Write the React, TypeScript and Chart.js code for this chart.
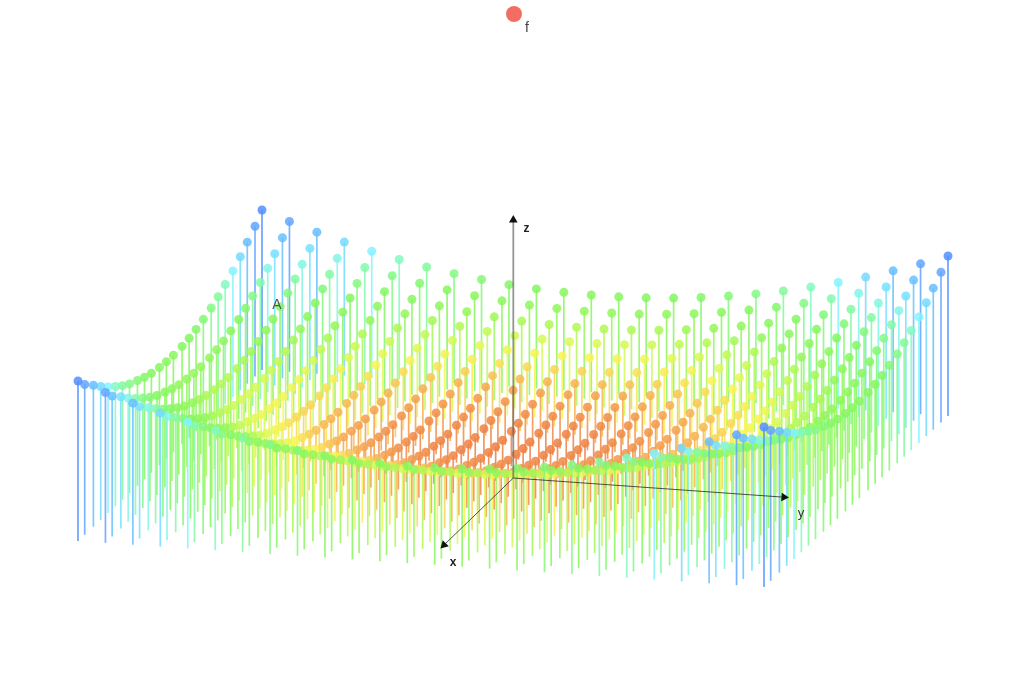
import React, { useEffect, useRef } from "react";
import { Chart, registerables } from "chart.js";

Chart.register(...registerables);

const xIndex = [0,0.95,2,2.95,3.95,5,5.96,6.9,7.97,8.96,9.9,10.86,12.04,12.99,13.94,15.03,15.97,16.92,18,18.96,19.92,20.92,21.91,22.91,24.09,25];
const yIndex = [0,1,2,3,4,5,6,7,8,9,10,11,12,13,14,15,16,17,18,19,20,21,22,23,24,25];

// Heights: one row for each x position, back to front
const zRows = [
[160.0,150.3,141.5,133.4,126.1,119.7,114.0,109.2,105.2,101.9,99.5,97.9,97.1,97.1,97.9,99.5,101.9,105.2,109.2,114.0,119.7,126.1,133.4,141.5,150.3,160.0],
[150.3,140.6,131.8,123.7,116.4,110.0,104.3,99.5,95.5,92.2,89.8,88.2,87.4,87.4,88.2,89.8,92.2,95.5,99.5,104.3,110.0,116.4,123.7,131.8,140.6,150.3],
[141.5,131.8,123.0,114.9,107.6,101.2,95.5,90.7,86.7,83.4,81.0,79.4,78.6,78.6,79.4,81.0,83.4,86.7,90.7,95.5,101.2,107.6,114.9,123.0,131.8,141.5],
[133.4,123.7,114.9,106.8,99.5,93.1,87.4,82.6,78.6,75.3,72.9,71.3,70.5,70.5,71.3,72.9,75.3,78.6,82.6,87.4,93.1,99.5,106.8,114.9,123.7,133.4],
[126.1,116.4,107.6,99.5,92.2,85.8,80.1,75.3,71.3,68.0,65.6,64.0,63.2,63.2,64.0,65.6,68.0,71.3,75.3,80.1,85.8,92.2,99.5,107.6,116.4,126.1],
[119.7,110.0,101.2,93.1,85.8,79.4,73.7,68.9,64.9,61.6,59.2,57.6,56.8,56.8,57.6,59.2,61.6,64.9,68.9,73.7,79.4,85.8,93.1,101.2,110.0,119.7],
[114.0,104.3,95.5,87.4,80.1,73.7,68.0,63.2,59.2,55.9,53.5,51.9,51.1,51.1,51.9,53.5,55.9,59.2,63.2,68.0,73.7,80.1,87.4,95.5,104.3,114.0],
[109.2,99.5,90.7,82.6,75.3,68.9,63.2,58.4,54.4,51.1,48.7,47.1,46.3,46.3,47.1,48.7,51.1,54.4,58.4,63.2,68.9,75.3,82.6,90.7,99.5,109.2],
[105.2,95.5,86.7,78.6,71.3,64.9,59.2,54.4,50.4,47.1,44.7,43.1,42.3,42.3,43.1,44.7,47.1,50.4,54.4,59.2,64.9,71.3,78.6,86.7,95.5,105.2],
[101.9,92.2,83.4,75.3,68.0,61.6,55.9,51.1,47.1,43.8,41.4,39.8,39.0,39.0,39.8,41.4,43.8,47.1,51.1,55.9,61.6,68.0,75.3,83.4,92.2,101.9],
[99.5,89.8,81.0,72.9,65.6,59.2,53.5,48.7,44.7,41.4,39.0,37.4,36.6,36.6,37.4,39.0,41.4,44.7,48.7,53.5,59.2,65.6,72.9,81.0,89.8,99.5],
[97.9,88.2,79.4,71.3,64.0,57.6,51.9,47.1,43.1,39.8,37.4,35.8,35.0,35.0,35.8,37.4,39.8,43.1,47.1,51.9,57.6,64.0,71.3,79.4,88.2,97.9],
[97.1,87.4,78.6,70.5,63.2,56.8,51.1,46.3,42.3,39.0,36.6,35.0,34.2,34.2,35.0,36.6,39.0,42.3,46.3,51.1,56.8,63.2,70.5,78.6,87.4,97.1],
[97.1,87.4,78.6,70.5,63.2,56.8,51.1,46.3,42.3,39.0,36.6,35.0,34.2,34.2,35.0,36.6,39.0,42.3,46.3,51.1,56.8,63.2,70.5,78.6,87.4,97.1],
[97.9,88.2,79.4,71.3,64.0,57.6,51.9,47.1,43.1,39.8,37.4,35.8,35.0,35.0,35.8,37.4,39.8,43.1,47.1,51.9,57.6,64.0,71.3,79.4,88.2,97.9],
[99.5,89.8,81.0,72.9,65.6,59.2,53.5,48.7,44.7,41.4,39.0,37.4,36.6,36.6,37.4,39.0,41.4,44.7,48.7,53.5,59.2,65.6,72.9,81.0,89.8,99.5],
[101.9,92.2,83.4,75.3,68.0,61.6,55.9,51.1,47.1,43.8,41.4,39.8,39.0,39.0,39.8,41.4,43.8,47.1,51.1,55.9,61.6,68.0,75.3,83.4,92.2,101.9],
[105.2,95.5,86.7,78.6,71.3,64.9,59.2,54.4,50.4,47.1,44.7,43.1,42.3,42.3,43.1,44.7,47.1,50.4,54.4,59.2,64.9,71.3,78.6,86.7,95.5,105.2],
[109.2,99.5,90.7,82.6,75.3,68.9,63.2,58.4,54.4,51.1,48.7,47.1,46.3,46.3,47.1,48.7,51.1,54.4,58.4,63.2,68.9,75.3,82.6,90.7,99.5,109.2],
[114.0,104.3,95.5,87.4,80.1,73.7,68.0,63.2,59.2,55.9,53.5,51.9,51.1,51.1,51.9,53.5,55.9,59.2,63.2,68.0,73.7,80.1,87.4,95.5,104.3,114.0],
[119.7,110.0,101.2,93.1,85.8,79.4,73.7,68.9,64.9,61.6,59.2,57.6,56.8,56.8,57.6,59.2,61.6,64.9,68.9,73.7,79.4,85.8,93.1,101.2,110.0,119.7],
[126.1,116.4,107.6,99.5,92.2,85.8,80.1,75.3,71.3,68.0,65.6,64.0,63.2,63.2,64.0,65.6,68.0,71.3,75.3,80.1,85.8,92.2,99.5,107.6,116.4,126.1],
[133.4,123.7,114.9,106.8,99.5,93.1,87.4,82.6,78.6,75.3,72.9,71.3,70.5,70.5,71.3,72.9,75.3,78.6,82.6,87.4,93.1,99.5,106.8,114.9,123.7,133.4],
[141.5,131.8,123.0,114.9,107.6,101.2,95.5,90.7,86.7,83.4,81.0,79.4,78.6,78.6,79.4,81.0,83.4,86.7,90.7,95.5,101.2,107.6,114.9,123.0,131.8,141.5],
[150.3,140.6,131.8,123.7,116.4,110.0,104.3,99.5,95.5,92.2,89.8,88.2,87.4,87.4,88.2,89.8,92.2,95.5,99.5,104.3,110.0,116.4,123.7,131.8,140.6,150.3],
[160.0,150.3,141.5,133.4,126.1,119.7,114.0,109.2,105.2,101.9,99.5,97.9,97.1,97.1,97.9,99.5,101.9,105.2,109.2,114.0,119.7,126.1,133.4,141.5,150.3,160.0],
];

// Visual map: height -> colour
const mapValues = [34, 42, 50, 56, 63, 70, 76, 86, 100, 112, 120, 126, 140, 150, 160];
const mapColors = [
  [237, 127, 67], [241, 143, 73], [246, 173, 79], [249, 208, 85], [249, 244, 85], [220, 249, 85], [191, 249, 85],
  [149, 247, 91], [132, 247, 96], [132, 249, 143], [132, 249, 196], [132, 243, 255], [102, 196, 255], [99, 167, 255], [81, 143, 255],
];
const markAlpha = 0.85;

const legendName = "f";
const axisNames = ["x", "y", "z"];

function colorFor(h: number): string {
  let k = 0;
  while (k < mapValues.length - 2 && h > mapValues[k + 1]) k++;
  const t = Math.min(1, Math.max(0, (h - mapValues[k]) / (mapValues[k + 1] - mapValues[k])));
  const c = mapColors[k].map((v, n) => Math.round(v + (mapColors[k + 1][n] - v) * t));
  return `rgba(${c[0]},${c[1]},${c[2]},${markAlpha})`;
}

// Fixed view of the 3D box on the page
const view = { ox: 262, oy: 370, xdx: -7.36, xdy: 6.84, ydx: 27.44, ydy: 1.84 };
const project = (i: number, j: number, h: number) => ({
  x: view.ox + view.xdx * i + view.ydx * j,
  y: view.oy + view.xdy * i + view.ydy * j - h,
});

const axisOrigin = { x: 513.3, y: 478 };
const axisEnds = [
  { name: "x", x: 444, y: 545, rotation: 225, color: "rgba(40,40,40,0.8)", width: 1 },
  { name: "y", x: 784, y: 497.2, rotation: 94, color: "rgba(40,40,40,0.8)", width: 1 },
  { name: "z", x: 513.3, y: 220, rotation: 0, color: "rgba(90,90,90,0.65)", width: 1.8 },
];
const legendPoint = { x: 514, y: 14 };

const texts = [
  { text: legendName, x: 527, y: 28, font: "14px 'Liberation Sans'", color: "#444" },
  { text: axisNames[0], x: 453, y: 563, font: "bold 12px 'Liberation Sans'", color: "#222" },
  { text: axisNames[1], x: 801, y: 513, font: "13px 'Liberation Sans'", color: "#333" },
  { text: axisNames[2], x: 526.5, y: 229, font: "bold 12px 'Liberation Sans'", color: "#222" },
  { text: "A", x: 277, y: 305, font: "14px 'Liberation Sans'", color: "#555" },
];

const textPlugin = {
  id: "plainTexts",
  afterDatasetsDraw(chart: any) {
    const { ctx, scales } = chart;
    ctx.save();
    ctx.textAlign = "center";
    ctx.textBaseline = "middle";
    for (const t of texts) {
      ctx.font = t.font;
      ctx.fillStyle = t.color;
      ctx.fillText(t.text, scales.x.getPixelForValue(t.x), scales.y.getPixelForValue(t.y));
    }
    ctx.restore();
  },
};

export default function App() {
  const ref = useRef<HTMLCanvasElement>(null);
  useEffect(() => {
    document.body.style.margin = "0";
    const datasets: any[] = [];
    // First dataset is painted last, so: overlays, then front rows, then back rows
    datasets.push({
      label: legendName,
      data: [legendPoint],
      showLine: false,
      pointRadius: 8,
      pointBackgroundColor: "rgba(238,62,46,0.75)",
      pointBorderWidth: 0,
    });
    for (const a of axisEnds) {
      datasets.push({
        label: a.name,
        data: [axisOrigin, { x: a.x, y: a.y }],
        borderColor: a.color,
        borderWidth: a.width,
        pointStyle: "triangle",
        pointRotation: a.rotation,
        pointRadius: [0, 5],
        pointBackgroundColor: "#111",
        pointBorderWidth: 0,
      });
    }
    for (let i = xIndex.length - 1; i >= 0; i--) {
      for (let j = yIndex.length - 1; j >= 0; j--) {
        const h = zRows[i][j];
        const col = colorFor(h);
        datasets.push({
          data: [project(xIndex[i], yIndex[j], 0), project(xIndex[i], yIndex[j], h)],
          borderColor: col,
          borderWidth: 1.7,
          pointRadius: [0, 4.5],
          pointBackgroundColor: col,
          pointBorderWidth: 0,
        });
      }
    }
    const chart = new Chart(ref.current!, {
      type: "line",
      data: { datasets },
      plugins: [textPlugin],
      options: {
        animation: false,
        responsive: false,
        events: [],
        parsing: false,
        normalized: true,
        layout: { padding: 0, autoPadding: false },
        scales: {
          x: { type: "linear", min: 0, max: 1024, display: false },
          y: { type: "linear", min: 0, max: 689, reverse: true, display: false },
        },
        plugins: { legend: { display: false }, tooltip: { enabled: false } },
        elements: { line: { tension: 0 } },
      },
    } as any);
    return () => chart.destroy();
  }, []);
  return (
    <canvas
      ref={ref}
      width={1024}
      height={689}
      style={{ position: "absolute", left: 0, top: 0, display: "block", width: 1024, height: 689 }}
    />
  );
}
